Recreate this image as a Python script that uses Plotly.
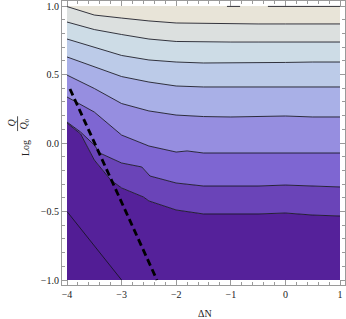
import plotly.graph_objects as go

# ---- data ----
xg = [-4.0, -3.5, -3.0, -2.5, -2.0, -1.5, -1.0, -0.5, 0.0, 0.5, 1.0]

l1_y = [0.996, 0.934, 0.912, 0.891, 0.876, 0.872, 0.869, 0.869, 0.869, 0.869, 0.869]
l2_y = [0.883, 0.828, 0.792, 0.759, 0.741, 0.737, 0.737, 0.737, 0.737, 0.737, 0.737]
l3_y = [0.759, 0.701, 0.639, 0.606, 0.591, 0.584, 0.584, 0.584, 0.588, 0.591, 0.591]
l4_y = [0.628, 0.555, 0.485, 0.445, 0.416, 0.409, 0.409, 0.409, 0.409, 0.409, 0.409]
l5_y = [0.496, 0.398, 0.288, 0.234, 0.204, 0.193, 0.190, 0.193, 0.197, 0.190, 0.190]

l6_x = [-4.0, -3.5, -3.0, -2.5, -2.0, -1.8, -1.5, -1.0, -0.5, 0.0, 0.5, 1.0]
l6_y = [0.336, 0.226, 0.058, -0.022, -0.066, -0.058, -0.073, -0.073, -0.073, -0.073, -0.077, -0.073]

l7_x = [-4.0, -3.75, -3.5, -3.4, -3.0, -2.63, -2.48, -2.0, -1.5, -1.0, -0.5, 0.0, 0.5, 1.0]
l7_y = [0.153, 0.080, -0.015, -0.073, -0.146, -0.175, -0.241, -0.292, -0.314, -0.314, -0.314, -0.307, -0.314, -0.321]

l8_x = [-4.0, -3.75, -3.5, -3.2, -3.0, -2.6, -2.5, -2.0, -1.5, -1.0, -0.5, 0.0, 0.5, 1.0]
l8_y = [0.146, 0.066, -0.124, -0.270, -0.328, -0.394, -0.423, -0.489, -0.518, -0.518, -0.518, -0.511, -0.526, -0.533]

l9_x = [-4.0, -3.0]
l9_y = [-0.5, -1.0]

l0_x = [-1.07, -0.83, None, -0.32, 1.0]
l0_y = [0.997, 0.997, None, 0.997, 0.997]

dash_x = [-3.945, -2.352]
dash_y = [0.394, -1.0]

x_ticks = [-4, -3, -2, -1, 0, 1]
y_ticks = [-1.0, -0.5, 0.0, 0.5, 1.0]

band_colors = ["#e8e4d8", "#dce0df", "#cddce6", "#bccbe8", "#a9b0e7",
               "#968ee0", "#7e66d2", "#6a44b8", "#55219a", "#521d95"]

# ---- build ----
lines = [
    (xg, l1_y), (xg, l2_y), (xg, l3_y), (xg, l4_y), (xg, l5_y),
    (l6_x, l6_y), (l7_x, l7_y), (l8_x, l8_y),
]

fig = go.Figure()

def add_poly(px, py, color):
    fig.add_trace(go.Scatter(x=px, y=py, mode="lines", fill="toself",
                             fillcolor=color, line=dict(width=0, color=color),
                             hoverinfo="skip", showlegend=False))

# top band
top_x = [-4.0, 1.0] + list(reversed(lines[0][0]))
top_y = [1.0, 1.0] + list(reversed(lines[0][1]))
add_poly(top_x, top_y, band_colors[0])
# middle bands
for i in range(len(lines) - 1):
    ax, ay = lines[i]
    bx, by = lines[i + 1]
    add_poly(list(ax) + list(reversed(bx)), list(ay) + list(reversed(by)), band_colors[i + 1])
# bottom band
bx, by = lines[-1]
add_poly(list(bx) + [1.0, -4.0], list(by) + [-1.0, -1.0], band_colors[8])
# bottom-left corner band
add_poly(l9_x + [-4.0], l9_y + [-1.0], band_colors[9])

# contour lines
for lx, ly in lines + [(l9_x, l9_y), (l0_x, l0_y)]:
    fig.add_trace(go.Scatter(x=lx, y=ly, mode="lines",
                             line=dict(color="rgba(20,20,30,0.85)", width=1),
                             hoverinfo="skip", showlegend=False, connectgaps=False))

# dashed line
fig.add_trace(go.Scatter(x=dash_x, y=dash_y, mode="lines",
                         line=dict(color="black", width=2.8, dash="7px,4px"),
                         hoverinfo="skip", showlegend=False))

font = dict(family="Liberation Serif", size=10, color="#222")
axis_common = dict(showgrid=False, zeroline=False, showline=True, linecolor="#9a9a9a",
                   linewidth=1, mirror="ticks", ticks="inside", ticklen=5,
                   tickcolor="#9a9a9a", tickfont=font)

fig.update_xaxes(range=[-4.0916, 1.0916], tickvals=x_ticks,
                 minor=dict(dtick=0.2, ticks="inside", ticklen=3, tickcolor="#9a9a9a"),
                 **axis_common)
fig.update_yaxes(range=[-1.0365, 1.0365], tickvals=y_ticks, tickformat=".1f",
                 minor=dict(dtick=0.1, ticks="inside", ticklen=3, tickcolor="#9a9a9a"),
                 **axis_common)

ann_font = dict(family="Liberation Serif", size=10, color="#222")
fig.update_layout(
    width=346, height=319,
    margin=dict(l=62, r=1, t=1, b=34),
    plot_bgcolor="white", paper_bgcolor="white",
    annotations=[
        dict(text="ΔN", xref="paper", yref="paper", x=0.505, y=-0.0986,
             showarrow=False, font=ann_font, xanchor="center", yanchor="middle"),
        dict(text="Log", xref="paper", yref="paper", x=-0.1307, y=0.482,
             showarrow=False, font=ann_font, textangle=-90, xanchor="center", yanchor="middle"),
        dict(text="<i>Q</i>", xref="paper", yref="paper", x=-0.175, y=0.574,
             showarrow=False, font=ann_font, textangle=-90, xanchor="center", yanchor="middle"),
        dict(text="<i>Q</i><sub>0</sub>", xref="paper", yref="paper", x=-0.131, y=0.568,
             showarrow=False, font=ann_font, textangle=-90, xanchor="center", yanchor="middle"),
    ],
    shapes=[dict(type="line", xref="paper", yref="paper", x0=-0.157, x1=-0.157,
                 y0=0.542, y1=0.594, line=dict(color="#222", width=0.8))],
)

fig.write_html("out.html", config={"displayModeBar": False},
               post_script="document.body.style.margin='0';document.body.style.overflow='hidden';")
